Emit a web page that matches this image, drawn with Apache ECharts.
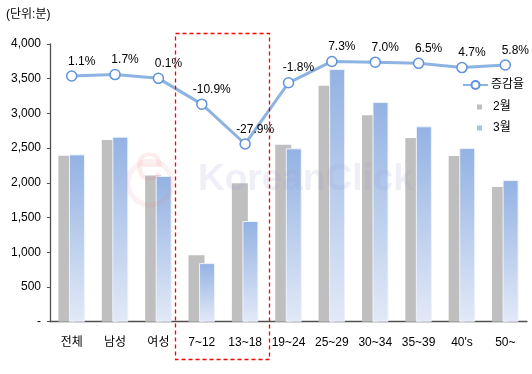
<!DOCTYPE html>
<html>
<head>
<meta charset="utf-8">
<script src="https://cdn.jsdelivr.net/npm/echarts@6/dist/echarts.min.js"></script>
<style>html,body{margin:0;padding:0;background:#fff;}#c{width:532px;height:374px;}</style>
</head>
<body>
<div id="c"></div>
<script>
var categories = ['전체','남성','여성','7~12','13~18','19~24','25~29','30~34','35~39',"40's",'50~'];
var feb = [2390, 2617, 2105, 956, 1993, 2549, 3399, 2972, 2645, 2386, 1940];
var mar = [2410, 2665, 2100, 844, 1450, 2497, 3639, 3164, 2814, 2501, 2040];
var rates = [1.1, 1.7, 0.1, -10.9, -27.9, -1.8, 7.3, 7.0, 6.5, 4.7, 5.8];
var yTickLabels = ['-', '500', '1,000', '1,500', '2,000', '2,500', '3,000', '3,500', '4,000'];

var FONT = "'Liberation Sans', Arial, 'Noto Sans CJK KR', sans-serif";
var chart = echarts.init(document.getElementById('c'), null, {renderer: 'canvas'});
chart.setOption({
  animation: false,
  textStyle: {fontFamily: FONT},
  grid: {left: 50, right: 5, top: 44, bottom: 52.3},
  xAxis: {
    type: 'category',
    data: categories,
    axisLine: {lineStyle: {color: '#505050', width: 1.3}},
    axisTick: {inside: true, length: 4, lineStyle: {color: '#505050'}},
    axisLabel: {color: '#000', fontSize: 12, margin: 15, fontFamily: FONT, interval: 0}
  },
  yAxis: [{
    type: 'value', min: 0, max: 4000, interval: 500,
    axisLine: {show: true, lineStyle: {color: '#505050', width: 1.3}},
    axisTick: {show: true, length: 3, lineStyle: {color: '#505050'}},
    splitLine: {show: false},
    axisLabel: {color: '#000', fontSize: 12, margin: 9, fontFamily: FONT,
      formatter: function (v) { return yTickLabels[Math.round(v / 500)]; }}
  }, {
    type: 'value', min: -103.7, max: 14.75, show: false, splitLine: {show: false}
  }],
  legend: [{
    data: ['증감율'], orient: 'vertical', left: 462, top: 79,
    itemWidth: 25, itemHeight: 10, padding: 0,
    textStyle: {color: '#000', fontSize: 12, fontFamily: FONT, padding: [0, 0, 0, -2]}
  }, {
    data: [{name: '2월'}, {name: '3월', itemStyle: {color: '#a8c1ec', borderWidth: 0}}],
    orient: 'vertical', left: 477, top: 101, padding: 0,
    itemWidth: 5, itemHeight: 5, itemGap: 9, icon: 'rect',
    textStyle: {color: '#000', fontSize: 12, fontFamily: FONT, padding: [0, 0, 0, 6]}
  }],
  series: [{
    name: '2월', type: 'bar', data: feb, barWidth: 16, barGap: '-34%',
    itemStyle: {color: '#bfbfbf'}
  }, {
    name: '3월', type: 'bar', data: mar, barWidth: 16,
    itemStyle: {
      color: new echarts.graphic.LinearGradient(0, 0, 0, 1, [
        {offset: 0, color: '#93b2e3'}, {offset: 1, color: '#e2e9f7'}
      ]),
      borderColor: '#eef3fb', borderWidth: 1
    }
  }, {
    name: '증감율', type: 'line', yAxisIndex: 1, data: rates, z: 5,
    symbol: 'circle', symbolSize: 10,
    lineStyle: {color: '#8db3e2', width: 3},
    itemStyle: {color: '#fff', borderColor: '#5f93dc', borderWidth: 1.5},
    label: {show: true, position: 'top', distance: 3, offset: [10, 0],
      color: '#000', fontSize: 12, fontFamily: FONT,
      formatter: function (p) { return rates[p.dataIndex].toFixed(1) + '%'; }}
  }],
  graphic: [{
    type: 'text', left: 6, top: 9,
    style: {text: '(단위:분)', fill: '#000', font: "12px " + FONT}
  }, {
    type: 'text', left: 198, top: 161, z: 50, silent: true,
    style: {text: 'KoreanClick', fill: '#a0a0d6', opacity: 0.17, font: "bold 37px " + FONT}
  }, {
    type: 'text', left: 135, top: 140, z: 50, silent: true,
    style: {text: 'e', fill: '#f08080', opacity: 0.15, font: "52px " + FONT}
  }, {
    type: 'circle', shape: {cx: 150, cy: 183, r: 22}, z: 50, silent: true,
    style: {fill: 'none', stroke: '#f08080', lineWidth: 5, opacity: 0.12}
  }, {
    type: 'rect', shape: {x: 175.5, y: 33.5, width: 94, height: 326}, z: 60, silent: true,
    style: {fill: 'none', stroke: '#ff0000', lineWidth: 1.3, lineDash: [4, 3]}
  }]
});
</script>
</body>
</html>
